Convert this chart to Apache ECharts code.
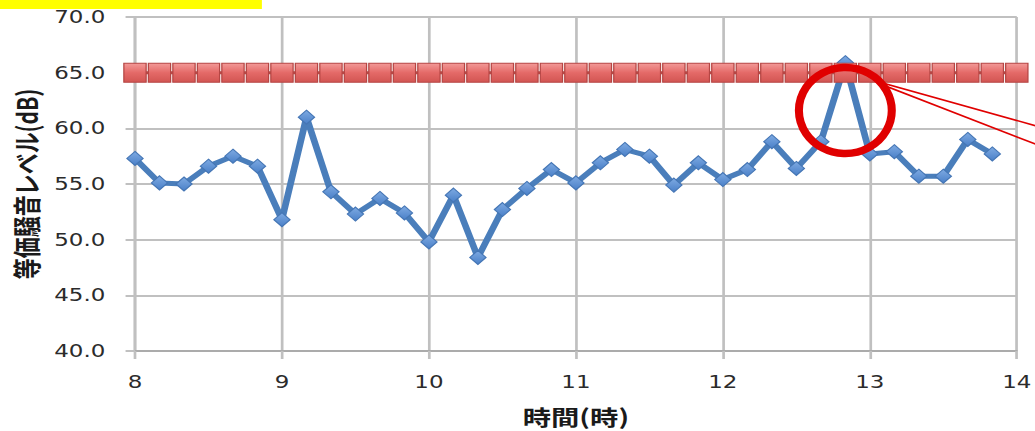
<!DOCTYPE html>
<html>
<head>
<meta charset="utf-8">
<script src="https://cdn.jsdelivr.net/npm/echarts@6/dist/echarts.min.js"></script>
<style>
  html, body { margin: 0; padding: 0; background: #fff; overflow: hidden; }
  /* the chart is laid out narrow and widened, giving the broad lettering */
  #chart { width: 767px; height: 431px; transform: scaleX(1.35); transform-origin: 0 0; }
</style>
</head>
<body>
<div id="chart"></div>
<script>
// measurements every 10 minutes, starting at 8:00
const startHour = 8;
const stepMinutes = 10;

// equivalent noise level (dB), 8:00 .. 13:50
const noiseLevels = [
  57.3, 55.1, 55.0, 56.6, 57.5, 56.6,
  51.8, 61.0, 54.3, 52.3, 53.7, 52.4,
  49.8, 54.0, 48.4, 52.7, 54.6, 56.3,
  55.1, 56.9, 58.1, 57.5, 54.9, 56.9,
  55.4, 56.3, 58.8, 56.4, 58.8, 65.9,
  57.7, 57.9, 55.7, 55.7, 59.0, 57.7
];

// limit level (dB), 8:00 .. 14:00
const limitLevels = [
  65, 65, 65, 65, 65, 65,
  65, 65, 65, 65, 65, 65,
  65, 65, 65, 65, 65, 65,
  65, 65, 65, 65, 65, 65,
  65, 65, 65, 65, 65, 65,
  65, 65, 65, 65, 65, 65,
  65
];

const hourTicks = [8, 9, 10, 11, 12, 13, 14];
const levelTicks = [40, 45, 50, 55, 60, 65, 70];

// highlighted exceedance (hour, dB) and the callout leader lines
const highlightPoint = [12 + 50 / 60, 61.6];
const leaderLines = [
  [[13.105, 64.0], [14.3, 59.6]],
  [[13.12, 63.73], [14.3, 57.7]]
];

const toHour = i => startHour + (i * stepMinutes) / 60;
const noiseData = noiseLevels.map((v, i) => [toHour(i), v]);
const limitData = limitLevels.map((v, i) => [toHour(i), v]);

const gridColor = '#c0c0c0';
const labelFont = { fontFamily: 'DejaVu Sans', fontSize: 17, color: '#2b2b2b' };
const titleFont = { fontFamily: 'Noto Sans CJK JP', fontSize: 21, fontWeight: 'bold', color: '#1a1a1a' };

const chart = echarts.init(document.getElementById('chart'), null, { renderer: 'svg' });

chart.setOption({
  animation: false,
  backgroundColor: '#ffffff',
  grid: { left: 100, right: 11.1, top: 17, bottom: 75, containLabel: false },
  xAxis: {
    type: 'value',
    min: hourTicks[0],
    max: hourTicks[hourTicks.length - 1],
    interval: hourTicks[1] - hourTicks[0],
    name: '時間(時)',
    nameLocation: 'middle',
    nameGap: 54,
    nameTextStyle: titleFont,
    axisLine: { show: true, lineStyle: { color: '#a4a4a4', width: 1.5 } },
    axisTick: { show: true, length: 8, lineStyle: { color: gridColor, width: 2 } },
    axisLabel: Object.assign({ margin: 23, formatter: v => String(v) }, labelFont),
    splitLine: { show: true, lineStyle: { color: gridColor, width: 2 } }
  },
  yAxis: {
    type: 'value',
    min: levelTicks[0],
    max: levelTicks[levelTicks.length - 1],
    interval: levelTicks[1] - levelTicks[0],
    name: '等価騒音レベル(dB)',
    nameLocation: 'middle',
    nameGap: 70,
    nameTextStyle: titleFont,
    axisLine: { show: true, lineStyle: { color: gridColor, width: 2 } },
    axisTick: { show: true, length: 7, lineStyle: { color: gridColor, width: 2 } },
    axisLabel: Object.assign({ margin: 22, formatter: v => v.toFixed(1) }, labelFont),
    splitLine: { show: true, lineStyle: { color: gridColor, width: 2 } }
  },
  series: [
    {
      name: '等価騒音レベル',
      type: 'line',
      data: noiseData,
      clip: false,
      z: 2,
      symbol: 'diamond',
      symbolSize: [12, 14],
      lineStyle: { color: '#4a7ebb', width: 5 },
      itemStyle: {
        color: new echarts.graphic.LinearGradient(0, 0, 0, 1, [
          { offset: 0, color: '#7eaae2' },
          { offset: 1, color: '#4a80c8' }
        ]),
        borderColor: '#4576b5',
        borderWidth: 1
      }
    },
    {
      name: '基準値',
      type: 'line',
      data: limitData,
      clip: false,
      z: 3,
      symbol: 'rect',
      symbolSize: [16.5, 19],
      lineStyle: { color: '#b84845', width: 3 },
      itemStyle: {
        color: new echarts.graphic.LinearGradient(0, 0, 0, 1, [
          { offset: 0, color: '#f39a98' },
          { offset: 0.5, color: '#e46a68' },
          { offset: 1, color: '#d25552' }
        ]),
        borderColor: '#b54644',
        borderWidth: 1
      }
    }
  ]
});

// annotations anchored to data coordinates
function drawAnnotations() {
  const c = chart.convertToPixel({ gridIndex: 0 }, highlightPoint);
  const lines = leaderLines.map(seg => {
    const a = chart.convertToPixel({ gridIndex: 0 }, seg[0]);
    const b = chart.convertToPixel({ gridIndex: 0 }, seg[1]);
    return {
      type: 'line',
      z: 10,
      shape: { x1: a[0], y1: a[1], x2: b[0], y2: b[1] },
      style: { stroke: '#e00000', lineWidth: 1.6 }
    };
  });
  chart.setOption({
    graphic: [
      {
        type: 'rect',
        left: 0, top: 0, z: 10,
        shape: { width: 194, height: 9 },
        style: { fill: '#ffff00' }
      },
      {
        type: 'circle',
        x: c[0], y: c[1],
        scaleX: 0.8, scaleY: 1,
        z: 11,
        shape: { cx: 0, cy: 0, r: 43 },
        style: { fill: 'none', stroke: '#e00000', lineWidth: 7.5 }
      }
    ].concat(lines)
  });
}
drawAnnotations();
</script>
</body>
</html>
